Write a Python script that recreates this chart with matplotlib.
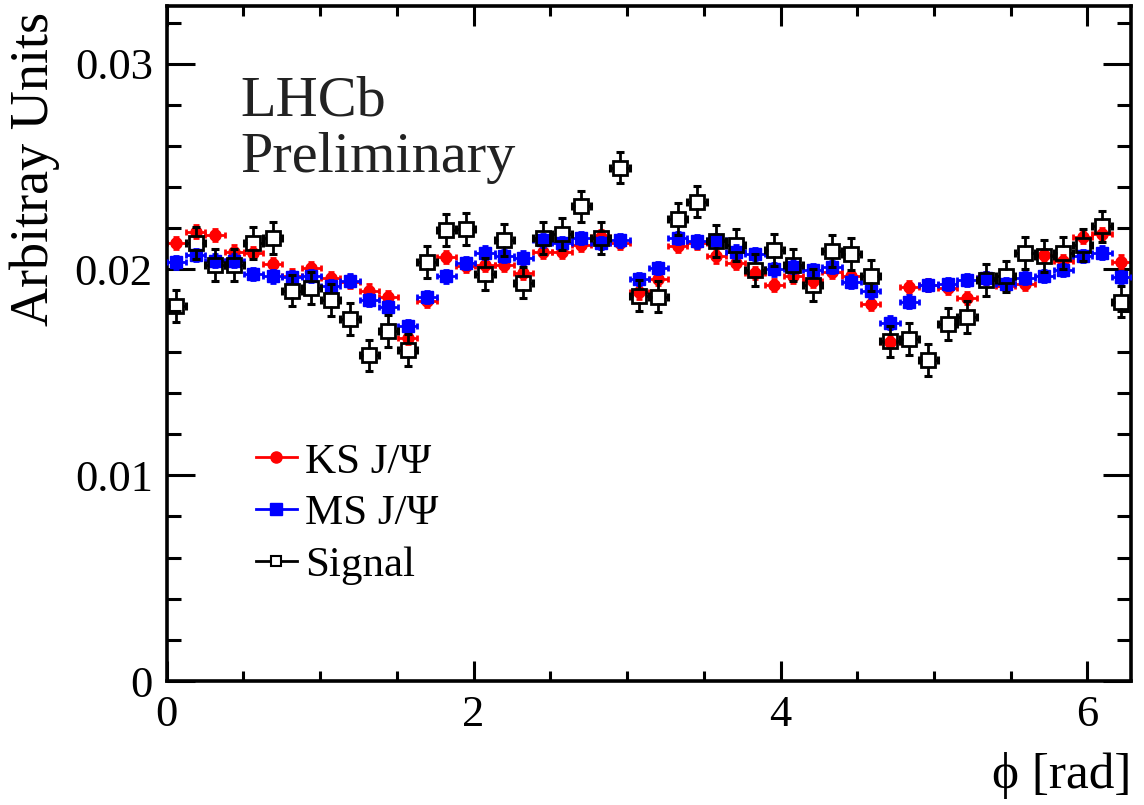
import numpy as np
import matplotlib
matplotlib.use('Agg')
import matplotlib.pyplot as plt
from matplotlib.lines import Line2D
from matplotlib.ticker import MultipleLocator

plt.rcParams['font.family'] = ['Liberation Serif', 'DejaVu Serif']

# 50 equal bins in phi over [0, 2pi]
nbins = 50
edges = np.linspace(0, 2 * np.pi, nbins + 1)
centers = 0.5 * (edges[:-1] + edges[1:])
half_width = 0.5 * (edges[1] - edges[0])

ks_jpsi = [0.02128, 0.02184, 0.02168, 0.02087, 0.02079, 0.02026, 0.01970, 0.02006, 0.01957, 0.01941,
           0.01897, 0.01865, 0.01666, 0.01849, 0.02060, 0.02019, 0.02022, 0.02022, 0.01985, 0.02087,
           0.02087, 0.02120, 0.02160, 0.02128, 0.01888, 0.01953, 0.02115, 0.02128, 0.02063, 0.02033,
           0.01982, 0.01925, 0.01966, 0.01945, 0.01990, 0.01966, 0.01833, 0.01647, 0.01914, 0.01925,
           0.01909, 0.01860, 0.01957, 0.01920, 0.01930, 0.02071, 0.02042, 0.02157, 0.02171, 0.02038]

ms_jpsi = [0.02034, 0.02071, 0.02043, 0.02043, 0.01979, 0.01966, 0.01962, 0.01969, 0.01920, 0.01946,
           0.01852, 0.01816, 0.01726, 0.01865, 0.01966, 0.02030, 0.02082, 0.02066, 0.02058, 0.02141,
           0.02128, 0.02152, 0.02128, 0.02141, 0.01953, 0.02006, 0.02152, 0.02136, 0.02141, 0.02087,
           0.02076, 0.02000, 0.02014, 0.01998, 0.02011, 0.01941, 0.01893, 0.01742, 0.01844, 0.01925,
           0.01930, 0.01949, 0.01957, 0.01930, 0.01957, 0.01969, 0.01998, 0.02066, 0.02082, 0.01962]

signal = [0.01823, 0.02130, 0.02022, 0.02020, 0.02130, 0.02154, 0.01897, 0.01910, 0.01852, 0.01760,
          0.01582, 0.01700, 0.01610, 0.02037, 0.02193, 0.02197, 0.01979, 0.02144, 0.01936, 0.02152,
          0.02173, 0.02306, 0.02152, 0.02495, 0.01873, 0.01868, 0.02244, 0.02330, 0.02139, 0.02120,
          0.01998, 0.02095, 0.02022, 0.01925, 0.02090, 0.02076, 0.01970, 0.01650, 0.01661, 0.01560,
          0.01736, 0.01768, 0.01950, 0.01966, 0.02079, 0.02066, 0.02079, 0.02120, 0.02209, 0.01844]

ks_err = 0.0003
ms_err = 0.0003
signal_err = 0.00077

fig = plt.figure(figsize=(11.44, 8.05), dpi=100)
ax = fig.add_axes([0.1457, 0.154, 0.8429, 0.8385])

ax.errorbar(centers, ks_jpsi, xerr=half_width, yerr=ks_err, fmt='o', color='red',
            ms=8, elinewidth=2, capsize=2.5, capthick=2, zorder=2)
ax.errorbar(centers, ms_jpsi, xerr=half_width, yerr=ms_err, fmt='s', color='blue',
            ms=8, elinewidth=2, capsize=2.5, capthick=2, zorder=3)

# open squares: error bars stop at the marker edge, like ROOT draws them
sig = np.array(signal)
gx, gy = 0.043, 0.00032
kw = dict(color='black', lw=2, zorder=4)
ax.hlines(sig, centers - half_width, centers - gx, **kw)
ax.hlines(sig, centers + gx, centers + half_width, **kw)
ax.vlines(centers, sig + gy, sig + signal_err, **kw)
ax.vlines(centers, sig - signal_err, sig - gy, **kw)
ax.plot(np.r_[centers - half_width, centers + half_width], np.r_[sig, sig], '|',
        color='black', ms=5.5, mew=2.2, zorder=4)
ax.plot(np.r_[centers, centers], np.r_[sig - signal_err, sig + signal_err], '_',
        color='black', ms=5.5, mew=2.2, zorder=4)
ax.plot(centers, sig, 's', mfc='none', mec='black', mew=2, ms=10, zorder=5)

ax.set_xlim(0, 2 * np.pi)
ax.set_ylim(0, 0.0328)
ax.xaxis.set_major_locator(MultipleLocator(2))
ax.xaxis.set_minor_locator(MultipleLocator(0.5))
ax.yaxis.set_major_locator(MultipleLocator(0.01))
ax.yaxis.set_minor_locator(MultipleLocator(0.002))
ax.set_xticks([0, 2, 4, 6])
ax.set_xticklabels(['0', '2', '4', '6'])
ax.set_yticks([0, 0.01, 0.02, 0.03])
ax.set_yticklabels(['0', '0.01', '0.02', '0.03'])

ax.tick_params(which='both', direction='in', top=True, right=True, width=2.2,
               labelsize=32, pad=10)
ax.tick_params(axis='x', which='major', length=14.5)
ax.tick_params(axis='x', which='minor', length=7.5)
ax.tick_params(axis='y', which='major', length=20)
ax.tick_params(axis='y', which='minor', length=10)
for sp in ax.spines.values():
    sp.set_linewidth(2.6)

fig.text(35 / 1144, 1 - 12 / 805, 'Arbitray Units', rotation=90, ha='center', va='top', fontsize=39)
fig.text(1131 / 1144, 1 - 775 / 805, 'ϕ [rad]', ha='right', va='center', fontsize=37)

ax.text(0.076, 0.8385, 'LHCb', transform=ax.transAxes, fontsize=42, va='baseline', color='#222222')
ax.text(0.076, 0.754, 'Preliminary', transform=ax.transAxes, fontsize=42, va='baseline', color='#222222')

handles = [
    Line2D([], [], color='red', lw=2, marker='o', ms=8),
    Line2D([], [], color='blue', lw=2, marker='s', ms=8),
    Line2D([], [], color='black', lw=2, marker='s', ms=7, mfc='white', mew=1.5),
]
ax.legend(handles, ['KS J/Ψ', 'MS J/Ψ', 'Signal'], loc='upper left',
          bbox_to_anchor=(0.0746, 0.379), frameon=False, fontsize=31,
          handlelength=0.95, handletextpad=0.2, labelspacing=0.29, borderaxespad=0)

fig.savefig('out.png', dpi=100)
